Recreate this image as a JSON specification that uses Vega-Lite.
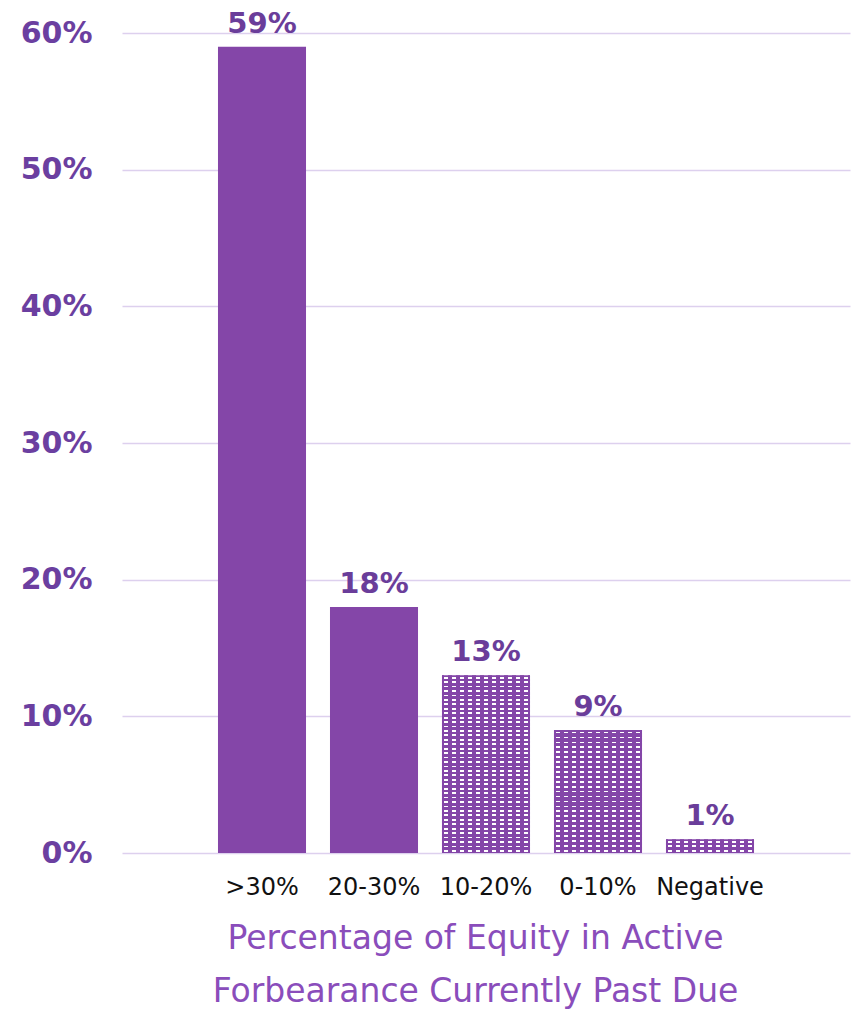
{
  "$schema": "https://vega.github.io/schema/vega-lite/v6.json",
  "autosize": {"type": "none"},
  "padding": {"left": 122, "top": 33, "right": 4, "bottom": 157},
  "width": 728,
  "height": 820,
  "background": "white",
  "config": {"view": {"stroke": null}, "font": "DejaVu Sans"},
  "data": {
    "values": [
      {"cat": ">30%", "value": 0.59},
      {"cat": "20-30%", "value": 0.18},
      {"cat": "10-20%", "value": 0.13},
      {"cat": "0-10%", "value": 0.09},
      {"cat": "Negative", "value": 0.01}
    ]
  },
  "encoding": {
    "x": {
      "field": "cat", "type": "nominal", "sort": null,
      "scale": {"paddingInner": 0.214, "paddingOuter": 0.857},
      "axis": {
        "title": ["Percentage of Equity in Active", "Forbearance Currently Past Due"],
        "titleFont": "DejaVu Sans", "titleFontSize": 33, "titleFontWeight": "normal",
        "titleColor": "#8a4dbb", "titleLineHeight": 53, "titlePadding": 23, "titleX": 353,
        "labelAngle": 0, "labelFont": "DejaVu Sans", "labelFontSize": 24, "labelColor": "#111111",
        "labelPadding": 22, "labelFontWeight": "normal",
        "ticks": false, "domain": false, "grid": false
      }
    },
    "y": {
      "field": "value", "type": "quantitative",
      "scale": {"domain": [0, 0.6], "nice": false},
      "axis": {
        "title": null, "format": ".0%", "values": [0, 0.1, 0.2, 0.3, 0.4, 0.5, 0.6],
        "labelFont": "DejaVu Sans", "labelFontSize": 30, "labelFontWeight": "bold",
        "labelColor": "#6b3fa0", "labelPadding": 30,
        "ticks": false, "domain": false, "grid": true, "gridColor": "#ddd0ee", "gridWidth": 1.5
      }
    }
  },
  "layer": [
    {
      "mark": {"type": "bar"},
      "encoding": {
        "color": {
          "condition": {"test": "indexof(['10-20%','0-10%','Negative'], datum.cat) >= 0", "value": "#ffffff"},
          "value": "#8446a8"
        }
      }
    },
    {
      "transform": [{"filter": "indexof(['10-20%','0-10%','Negative'], datum.cat) >= 0"}],
      "mark": {
        "type": "bar",
        "fill": {
          "gradient": "linear", "x1": 0, "y1": 0, "x2": 1, "y2": 0,
          "stops": [
            {"offset": 0, "color": "#8446a8"},
            {"offset": 0.02, "color": "#8446a8"}, {"offset": 0.02, "color": "rgba(255,255,255,0)"}, {"offset": 0.065, "color": "rgba(255,255,255,0)"}, {"offset": 0.065, "color": "#8446a8"},
            {"offset": 0.111, "color": "#8446a8"}, {"offset": 0.111, "color": "rgba(255,255,255,0)"}, {"offset": 0.156, "color": "rgba(255,255,255,0)"}, {"offset": 0.156, "color": "#8446a8"},
            {"offset": 0.202, "color": "#8446a8"}, {"offset": 0.202, "color": "rgba(255,255,255,0)"}, {"offset": 0.247, "color": "rgba(255,255,255,0)"}, {"offset": 0.247, "color": "#8446a8"},
            {"offset": 0.293, "color": "#8446a8"}, {"offset": 0.293, "color": "rgba(255,255,255,0)"}, {"offset": 0.338, "color": "rgba(255,255,255,0)"}, {"offset": 0.338, "color": "#8446a8"},
            {"offset": 0.384, "color": "#8446a8"}, {"offset": 0.384, "color": "rgba(255,255,255,0)"}, {"offset": 0.429, "color": "rgba(255,255,255,0)"}, {"offset": 0.429, "color": "#8446a8"},
            {"offset": 0.475, "color": "#8446a8"}, {"offset": 0.475, "color": "rgba(255,255,255,0)"}, {"offset": 0.52, "color": "rgba(255,255,255,0)"}, {"offset": 0.52, "color": "#8446a8"},
            {"offset": 0.566, "color": "#8446a8"}, {"offset": 0.566, "color": "rgba(255,255,255,0)"}, {"offset": 0.611, "color": "rgba(255,255,255,0)"}, {"offset": 0.611, "color": "#8446a8"},
            {"offset": 0.656, "color": "#8446a8"}, {"offset": 0.656, "color": "rgba(255,255,255,0)"}, {"offset": 0.701, "color": "rgba(255,255,255,0)"}, {"offset": 0.701, "color": "#8446a8"},
            {"offset": 0.747, "color": "#8446a8"}, {"offset": 0.747, "color": "rgba(255,255,255,0)"}, {"offset": 0.792, "color": "rgba(255,255,255,0)"}, {"offset": 0.792, "color": "#8446a8"},
            {"offset": 0.838, "color": "#8446a8"}, {"offset": 0.838, "color": "rgba(255,255,255,0)"}, {"offset": 0.883, "color": "rgba(255,255,255,0)"}, {"offset": 0.883, "color": "#8446a8"},
            {"offset": 0.929, "color": "#8446a8"}, {"offset": 0.929, "color": "rgba(255,255,255,0)"}, {"offset": 0.974, "color": "rgba(255,255,255,0)"}, {"offset": 0.974, "color": "#8446a8"},
            {"offset": 1, "color": "#8446a8"}
          ]
        }
      }
    },
    {
      "transform": [{"filter": "datum.cat === '10-20%'"}],
      "mark": {
        "type": "bar",
        "fill": {
          "gradient": "linear", "x1": 0, "y1": 0, "x2": 0, "y2": 1,
          "stops": [
            {"offset": 0, "color": "#8446a8"},
            {"offset": 0.008, "color": "#8446a8"}, {"offset": 0.008, "color": "rgba(255,255,255,0)"}, {"offset": 0.018, "color": "rgba(255,255,255,0)"}, {"offset": 0.018, "color": "#8446a8"},
            {"offset": 0.033, "color": "#8446a8"}, {"offset": 0.033, "color": "rgba(255,255,255,0)"}, {"offset": 0.043, "color": "rgba(255,255,255,0)"}, {"offset": 0.043, "color": "#8446a8"},
            {"offset": 0.058, "color": "#8446a8"}, {"offset": 0.058, "color": "rgba(255,255,255,0)"}, {"offset": 0.068, "color": "rgba(255,255,255,0)"}, {"offset": 0.068, "color": "#8446a8"},
            {"offset": 0.083, "color": "#8446a8"}, {"offset": 0.083, "color": "rgba(255,255,255,0)"}, {"offset": 0.093, "color": "rgba(255,255,255,0)"}, {"offset": 0.093, "color": "#8446a8"},
            {"offset": 0.108, "color": "#8446a8"}, {"offset": 0.108, "color": "rgba(255,255,255,0)"}, {"offset": 0.118, "color": "rgba(255,255,255,0)"}, {"offset": 0.118, "color": "#8446a8"},
            {"offset": 0.133, "color": "#8446a8"}, {"offset": 0.133, "color": "rgba(255,255,255,0)"}, {"offset": 0.143, "color": "rgba(255,255,255,0)"}, {"offset": 0.143, "color": "#8446a8"},
            {"offset": 0.158, "color": "#8446a8"}, {"offset": 0.158, "color": "rgba(255,255,255,0)"}, {"offset": 0.168, "color": "rgba(255,255,255,0)"}, {"offset": 0.168, "color": "#8446a8"},
            {"offset": 0.183, "color": "#8446a8"}, {"offset": 0.183, "color": "rgba(255,255,255,0)"}, {"offset": 0.193, "color": "rgba(255,255,255,0)"}, {"offset": 0.193, "color": "#8446a8"},
            {"offset": 0.208, "color": "#8446a8"}, {"offset": 0.208, "color": "rgba(255,255,255,0)"}, {"offset": 0.218, "color": "rgba(255,255,255,0)"}, {"offset": 0.218, "color": "#8446a8"},
            {"offset": 0.233, "color": "#8446a8"}, {"offset": 0.233, "color": "rgba(255,255,255,0)"}, {"offset": 0.243, "color": "rgba(255,255,255,0)"}, {"offset": 0.243, "color": "#8446a8"},
            {"offset": 0.258, "color": "#8446a8"}, {"offset": 0.258, "color": "rgba(255,255,255,0)"}, {"offset": 0.268, "color": "rgba(255,255,255,0)"}, {"offset": 0.268, "color": "#8446a8"},
            {"offset": 0.283, "color": "#8446a8"}, {"offset": 0.283, "color": "rgba(255,255,255,0)"}, {"offset": 0.293, "color": "rgba(255,255,255,0)"}, {"offset": 0.293, "color": "#8446a8"},
            {"offset": 0.308, "color": "#8446a8"}, {"offset": 0.308, "color": "rgba(255,255,255,0)"}, {"offset": 0.318, "color": "rgba(255,255,255,0)"}, {"offset": 0.318, "color": "#8446a8"},
            {"offset": 0.333, "color": "#8446a8"}, {"offset": 0.333, "color": "rgba(255,255,255,0)"}, {"offset": 0.343, "color": "rgba(255,255,255,0)"}, {"offset": 0.343, "color": "#8446a8"},
            {"offset": 0.358, "color": "#8446a8"}, {"offset": 0.358, "color": "rgba(255,255,255,0)"}, {"offset": 0.368, "color": "rgba(255,255,255,0)"}, {"offset": 0.368, "color": "#8446a8"},
            {"offset": 0.383, "color": "#8446a8"}, {"offset": 0.383, "color": "rgba(255,255,255,0)"}, {"offset": 0.393, "color": "rgba(255,255,255,0)"}, {"offset": 0.393, "color": "#8446a8"},
            {"offset": 0.408, "color": "#8446a8"}, {"offset": 0.408, "color": "rgba(255,255,255,0)"}, {"offset": 0.418, "color": "rgba(255,255,255,0)"}, {"offset": 0.418, "color": "#8446a8"},
            {"offset": 0.433, "color": "#8446a8"}, {"offset": 0.433, "color": "rgba(255,255,255,0)"}, {"offset": 0.443, "color": "rgba(255,255,255,0)"}, {"offset": 0.443, "color": "#8446a8"},
            {"offset": 0.458, "color": "#8446a8"}, {"offset": 0.458, "color": "rgba(255,255,255,0)"}, {"offset": 0.468, "color": "rgba(255,255,255,0)"}, {"offset": 0.468, "color": "#8446a8"},
            {"offset": 0.483, "color": "#8446a8"}, {"offset": 0.483, "color": "rgba(255,255,255,0)"}, {"offset": 0.493, "color": "rgba(255,255,255,0)"}, {"offset": 0.493, "color": "#8446a8"},
            {"offset": 0.508, "color": "#8446a8"}, {"offset": 0.508, "color": "rgba(255,255,255,0)"}, {"offset": 0.518, "color": "rgba(255,255,255,0)"}, {"offset": 0.518, "color": "#8446a8"},
            {"offset": 0.533, "color": "#8446a8"}, {"offset": 0.533, "color": "rgba(255,255,255,0)"}, {"offset": 0.543, "color": "rgba(255,255,255,0)"}, {"offset": 0.543, "color": "#8446a8"},
            {"offset": 0.558, "color": "#8446a8"}, {"offset": 0.558, "color": "rgba(255,255,255,0)"}, {"offset": 0.568, "color": "rgba(255,255,255,0)"}, {"offset": 0.568, "color": "#8446a8"},
            {"offset": 0.583, "color": "#8446a8"}, {"offset": 0.583, "color": "rgba(255,255,255,0)"}, {"offset": 0.593, "color": "rgba(255,255,255,0)"}, {"offset": 0.593, "color": "#8446a8"},
            {"offset": 0.608, "color": "#8446a8"}, {"offset": 0.608, "color": "rgba(255,255,255,0)"}, {"offset": 0.618, "color": "rgba(255,255,255,0)"}, {"offset": 0.618, "color": "#8446a8"},
            {"offset": 0.633, "color": "#8446a8"}, {"offset": 0.633, "color": "rgba(255,255,255,0)"}, {"offset": 0.643, "color": "rgba(255,255,255,0)"}, {"offset": 0.643, "color": "#8446a8"},
            {"offset": 0.658, "color": "#8446a8"}, {"offset": 0.658, "color": "rgba(255,255,255,0)"}, {"offset": 0.668, "color": "rgba(255,255,255,0)"}, {"offset": 0.668, "color": "#8446a8"},
            {"offset": 0.683, "color": "#8446a8"}, {"offset": 0.683, "color": "rgba(255,255,255,0)"}, {"offset": 0.693, "color": "rgba(255,255,255,0)"}, {"offset": 0.693, "color": "#8446a8"},
            {"offset": 0.708, "color": "#8446a8"}, {"offset": 0.708, "color": "rgba(255,255,255,0)"}, {"offset": 0.718, "color": "rgba(255,255,255,0)"}, {"offset": 0.718, "color": "#8446a8"},
            {"offset": 0.733, "color": "#8446a8"}, {"offset": 0.733, "color": "rgba(255,255,255,0)"}, {"offset": 0.743, "color": "rgba(255,255,255,0)"}, {"offset": 0.743, "color": "#8446a8"},
            {"offset": 0.758, "color": "#8446a8"}, {"offset": 0.758, "color": "rgba(255,255,255,0)"}, {"offset": 0.768, "color": "rgba(255,255,255,0)"}, {"offset": 0.768, "color": "#8446a8"},
            {"offset": 0.783, "color": "#8446a8"}, {"offset": 0.783, "color": "rgba(255,255,255,0)"}, {"offset": 0.793, "color": "rgba(255,255,255,0)"}, {"offset": 0.793, "color": "#8446a8"},
            {"offset": 0.808, "color": "#8446a8"}, {"offset": 0.808, "color": "rgba(255,255,255,0)"}, {"offset": 0.818, "color": "rgba(255,255,255,0)"}, {"offset": 0.818, "color": "#8446a8"},
            {"offset": 0.833, "color": "#8446a8"}, {"offset": 0.833, "color": "rgba(255,255,255,0)"}, {"offset": 0.843, "color": "rgba(255,255,255,0)"}, {"offset": 0.843, "color": "#8446a8"},
            {"offset": 0.858, "color": "#8446a8"}, {"offset": 0.858, "color": "rgba(255,255,255,0)"}, {"offset": 0.868, "color": "rgba(255,255,255,0)"}, {"offset": 0.868, "color": "#8446a8"},
            {"offset": 0.883, "color": "#8446a8"}, {"offset": 0.883, "color": "rgba(255,255,255,0)"}, {"offset": 0.893, "color": "rgba(255,255,255,0)"}, {"offset": 0.893, "color": "#8446a8"},
            {"offset": 0.908, "color": "#8446a8"}, {"offset": 0.908, "color": "rgba(255,255,255,0)"}, {"offset": 0.918, "color": "rgba(255,255,255,0)"}, {"offset": 0.918, "color": "#8446a8"},
            {"offset": 0.933, "color": "#8446a8"}, {"offset": 0.933, "color": "rgba(255,255,255,0)"}, {"offset": 0.943, "color": "rgba(255,255,255,0)"}, {"offset": 0.943, "color": "#8446a8"},
            {"offset": 0.958, "color": "#8446a8"}, {"offset": 0.958, "color": "rgba(255,255,255,0)"}, {"offset": 0.968, "color": "rgba(255,255,255,0)"}, {"offset": 0.968, "color": "#8446a8"},
            {"offset": 0.983, "color": "#8446a8"}, {"offset": 0.983, "color": "rgba(255,255,255,0)"}, {"offset": 0.993, "color": "rgba(255,255,255,0)"}, {"offset": 0.993, "color": "#8446a8"},
            {"offset": 1, "color": "#8446a8"}
          ]
        }
      }
    },
    {
      "transform": [{"filter": "datum.cat === '0-10%'"}],
      "mark": {
        "type": "bar",
        "fill": {
          "gradient": "linear", "x1": 0, "y1": 0, "x2": 0, "y2": 1,
          "stops": [
            {"offset": 0, "color": "#8446a8"},
            {"offset": 0.014, "color": "#8446a8"}, {"offset": 0.014, "color": "rgba(255,255,255,0)"}, {"offset": 0.028, "color": "rgba(255,255,255,0)"}, {"offset": 0.028, "color": "#8446a8"},
            {"offset": 0.054, "color": "#8446a8"}, {"offset": 0.054, "color": "rgba(255,255,255,0)"}, {"offset": 0.068, "color": "rgba(255,255,255,0)"}, {"offset": 0.068, "color": "#8446a8"},
            {"offset": 0.094, "color": "#8446a8"}, {"offset": 0.094, "color": "rgba(255,255,255,0)"}, {"offset": 0.108, "color": "rgba(255,255,255,0)"}, {"offset": 0.108, "color": "#8446a8"},
            {"offset": 0.134, "color": "#8446a8"}, {"offset": 0.134, "color": "rgba(255,255,255,0)"}, {"offset": 0.148, "color": "rgba(255,255,255,0)"}, {"offset": 0.148, "color": "#8446a8"},
            {"offset": 0.174, "color": "#8446a8"}, {"offset": 0.174, "color": "rgba(255,255,255,0)"}, {"offset": 0.188, "color": "rgba(255,255,255,0)"}, {"offset": 0.188, "color": "#8446a8"},
            {"offset": 0.214, "color": "#8446a8"}, {"offset": 0.214, "color": "rgba(255,255,255,0)"}, {"offset": 0.228, "color": "rgba(255,255,255,0)"}, {"offset": 0.228, "color": "#8446a8"},
            {"offset": 0.254, "color": "#8446a8"}, {"offset": 0.254, "color": "rgba(255,255,255,0)"}, {"offset": 0.268, "color": "rgba(255,255,255,0)"}, {"offset": 0.268, "color": "#8446a8"},
            {"offset": 0.294, "color": "#8446a8"}, {"offset": 0.294, "color": "rgba(255,255,255,0)"}, {"offset": 0.308, "color": "rgba(255,255,255,0)"}, {"offset": 0.308, "color": "#8446a8"},
            {"offset": 0.334, "color": "#8446a8"}, {"offset": 0.334, "color": "rgba(255,255,255,0)"}, {"offset": 0.348, "color": "rgba(255,255,255,0)"}, {"offset": 0.348, "color": "#8446a8"},
            {"offset": 0.374, "color": "#8446a8"}, {"offset": 0.374, "color": "rgba(255,255,255,0)"}, {"offset": 0.388, "color": "rgba(255,255,255,0)"}, {"offset": 0.388, "color": "#8446a8"},
            {"offset": 0.414, "color": "#8446a8"}, {"offset": 0.414, "color": "rgba(255,255,255,0)"}, {"offset": 0.428, "color": "rgba(255,255,255,0)"}, {"offset": 0.428, "color": "#8446a8"},
            {"offset": 0.454, "color": "#8446a8"}, {"offset": 0.454, "color": "rgba(255,255,255,0)"}, {"offset": 0.468, "color": "rgba(255,255,255,0)"}, {"offset": 0.468, "color": "#8446a8"},
            {"offset": 0.494, "color": "#8446a8"}, {"offset": 0.494, "color": "rgba(255,255,255,0)"}, {"offset": 0.508, "color": "rgba(255,255,255,0)"}, {"offset": 0.508, "color": "#8446a8"},
            {"offset": 0.534, "color": "#8446a8"}, {"offset": 0.534, "color": "rgba(255,255,255,0)"}, {"offset": 0.548, "color": "rgba(255,255,255,0)"}, {"offset": 0.548, "color": "#8446a8"},
            {"offset": 0.574, "color": "#8446a8"}, {"offset": 0.574, "color": "rgba(255,255,255,0)"}, {"offset": 0.588, "color": "rgba(255,255,255,0)"}, {"offset": 0.588, "color": "#8446a8"},
            {"offset": 0.614, "color": "#8446a8"}, {"offset": 0.614, "color": "rgba(255,255,255,0)"}, {"offset": 0.628, "color": "rgba(255,255,255,0)"}, {"offset": 0.628, "color": "#8446a8"},
            {"offset": 0.654, "color": "#8446a8"}, {"offset": 0.654, "color": "rgba(255,255,255,0)"}, {"offset": 0.668, "color": "rgba(255,255,255,0)"}, {"offset": 0.668, "color": "#8446a8"},
            {"offset": 0.694, "color": "#8446a8"}, {"offset": 0.694, "color": "rgba(255,255,255,0)"}, {"offset": 0.708, "color": "rgba(255,255,255,0)"}, {"offset": 0.708, "color": "#8446a8"},
            {"offset": 0.734, "color": "#8446a8"}, {"offset": 0.734, "color": "rgba(255,255,255,0)"}, {"offset": 0.748, "color": "rgba(255,255,255,0)"}, {"offset": 0.748, "color": "#8446a8"},
            {"offset": 0.774, "color": "#8446a8"}, {"offset": 0.774, "color": "rgba(255,255,255,0)"}, {"offset": 0.788, "color": "rgba(255,255,255,0)"}, {"offset": 0.788, "color": "#8446a8"},
            {"offset": 0.814, "color": "#8446a8"}, {"offset": 0.814, "color": "rgba(255,255,255,0)"}, {"offset": 0.828, "color": "rgba(255,255,255,0)"}, {"offset": 0.828, "color": "#8446a8"},
            {"offset": 0.854, "color": "#8446a8"}, {"offset": 0.854, "color": "rgba(255,255,255,0)"}, {"offset": 0.868, "color": "rgba(255,255,255,0)"}, {"offset": 0.868, "color": "#8446a8"},
            {"offset": 0.894, "color": "#8446a8"}, {"offset": 0.894, "color": "rgba(255,255,255,0)"}, {"offset": 0.908, "color": "rgba(255,255,255,0)"}, {"offset": 0.908, "color": "#8446a8"},
            {"offset": 0.934, "color": "#8446a8"}, {"offset": 0.934, "color": "rgba(255,255,255,0)"}, {"offset": 0.948, "color": "rgba(255,255,255,0)"}, {"offset": 0.948, "color": "#8446a8"},
            {"offset": 0.974, "color": "#8446a8"}, {"offset": 0.974, "color": "rgba(255,255,255,0)"}, {"offset": 0.988, "color": "rgba(255,255,255,0)"}, {"offset": 0.988, "color": "#8446a8"},
            {"offset": 1, "color": "#8446a8"}
          ]
        }
      }
    },
    {
      "transform": [{"filter": "datum.cat === 'Negative'"}],
      "mark": {
        "type": "bar",
        "fill": {
          "gradient": "linear", "x1": 0, "y1": 0, "x2": 0, "y2": 1,
          "stops": [
            {"offset": 0, "color": "#8446a8"},
            {"offset": 0.12, "color": "#8446a8"}, {"offset": 0.12, "color": "rgba(255,255,255,0)"}, {"offset": 0.25, "color": "rgba(255,255,255,0)"}, {"offset": 0.25, "color": "#8446a8"},
            {"offset": 0.45, "color": "#8446a8"}, {"offset": 0.45, "color": "rgba(255,255,255,0)"}, {"offset": 0.58, "color": "rgba(255,255,255,0)"}, {"offset": 0.58, "color": "#8446a8"},
            {"offset": 0.78, "color": "#8446a8"}, {"offset": 0.78, "color": "rgba(255,255,255,0)"}, {"offset": 0.91, "color": "rgba(255,255,255,0)"}, {"offset": 0.91, "color": "#8446a8"},
            {"offset": 1, "color": "#8446a8"}
          ]
        }
      }
    },
    {
      "mark": {"type": "text", "baseline": "alphabetic", "dy": -14, "font": "DejaVu Sans", "fontSize": 29, "fontWeight": "bold", "color": "#6a3d9a"},
      "encoding": {
        "text": {"field": "value", "type": "quantitative", "format": ".0%"}
      }
    }
  ]
}
